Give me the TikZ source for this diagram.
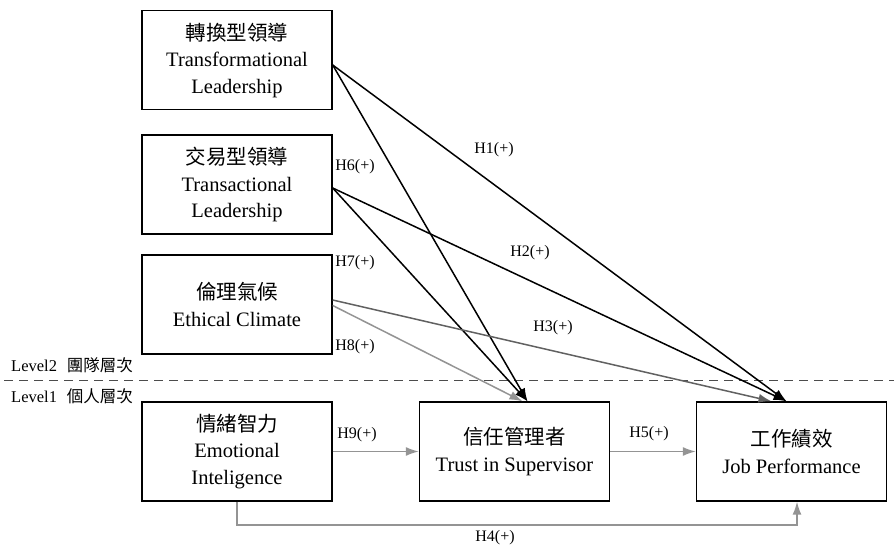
\documentclass[tikz,border=0pt]{standalone}
\usepackage{fontspec}
\setmainfont{Liberation Serif}
\newfontfamily\cjk{Noto Sans CJK TC}
\usetikzlibrary{arrows.meta}
\begin{document}
\begin{tikzpicture}[x=1pt,y=-1pt,
  box/.style={draw=black,line width=1.4pt,minimum width=190pt,minimum height=99pt,
    align=center,inner sep=0pt,font=\fontsize{20.5}{26.5}\selectfont},
  hyp/.style={font=\fontsize{16}{19}\selectfont,inner sep=0pt},
  lvl/.style={font=\fontsize{16.5}{19}\selectfont,inner sep=0pt,anchor=west},
  blk/.style={draw=black,line width=1.5pt,-{Latex[length=13pt,width=9pt]}},
  dgr/.style={draw=black!62,line width=1.5pt,-{Latex[length=13pt,width=9pt]}},
  lgr/.style={draw=black!42,line width=1.5pt,-{Latex[length=13pt,width=9pt]}}]
\useasboundingbox (0,0) rectangle (894,548);

% constructs
\node[box] (tfl) at (237,60) {{\cjk 轉換型領導}\\Transformational\\Leadership};
\node[box] (tsl) at (237,184.5) {{\cjk 交易型領導}\\Transactional\\Leadership};
\node[box] (ec)  at (237,304.5) {{\cjk 倫理氣候}\\Ethical Climate};
\node[box] (ei)  at (237,451.5) {{\cjk 情緒智力}\\Emotional\\Inteligence};
\node[box] (ts)  at (514.5,451.5) {{\cjk 信任管理者}\\Trust in Supervisor};
\node[box] (jp)  at (791.5,451.5) {{\cjk 工作績效}\\Job Performance};

% level divider
\coordinate (dl) at (4,380.5);
\coordinate (dr) at (894,380.5);
\draw[black!70,line width=1.3pt,dash pattern=on 9pt off 6pt] (dl) -- (dr);
\node[lvl] (l2) at (11,365) {Level2\hspace{0.6em}{\cjk 團隊層次}};
\node[lvl] (l1) at (11,396) {Level1\hspace{0.6em}{\cjk 個人層次}};

% paths into trust in supervisor
\draw[blk] ([yshift=-5pt]tfl.east) -- ([xshift=13pt]ts.north);
\draw[blk] ([yshift=-3.5pt]tsl.east) -- ([xshift=13pt]ts.north);
\draw[lgr] ([yshift=-1pt]ec.east) -- ([xshift=8pt]ts.north);
% paths into job performance
\draw[blk] ([yshift=-5pt]tfl.east) -- ([xshift=-5pt]jp.north);
\draw[blk] ([yshift=-3.5pt]tsl.east) -- ([xshift=-5pt]jp.north);
\draw[dgr] ([yshift=4.5pt]ec.east) -- ([xshift=-20pt]jp.north);
% level-1 paths
\draw[lgr] (ei.east) -- (ts.west);
\draw[lgr] (ts.west -| ts.east) -- (jp.west);
\coordinate (h4a) at (ei.south |- 0,525);
\coordinate (h4b) at ([xshift=5.5pt]jp.south |- 0,525);
\draw[lgr] (ei.south) -- (h4a) -- (h4b) -- ([xshift=5.5pt]jp.south);

% hypothesis labels
\node[hyp] (h1) at (494,150) {H1(+)};
\node[hyp] (h2) at (530,253) {H2(+)};
\node[hyp] (h3) at (553,328) {H3(+)};
\node[hyp] (h4) at (495,538) {H4(+)};
\node[hyp] (h5) at (649,434) {H5(+)};
\node[hyp] (h6) at (355,167) {H6(+)};
\node[hyp] (h7) at (355,263) {H7(+)};
\node[hyp] (h8) at (355,347) {H8(+)};
\node[hyp] (h9) at (357,435) {H9(+)};
\end{tikzpicture}
\end{document}
